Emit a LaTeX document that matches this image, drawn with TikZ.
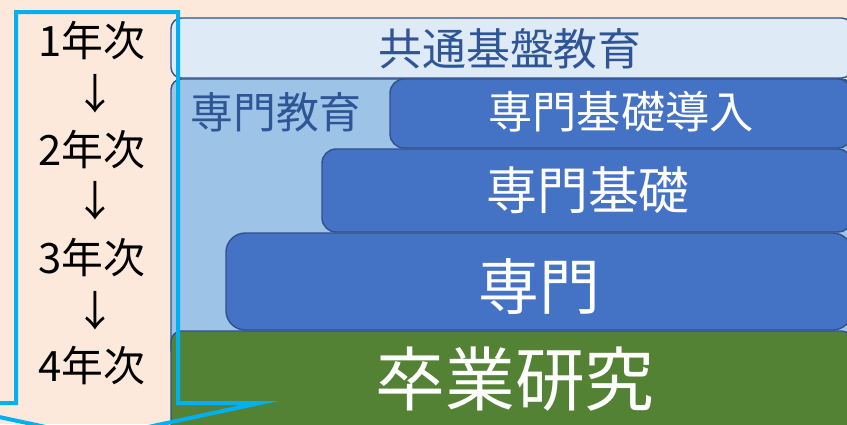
\documentclass[tikz,border=0pt]{standalone}
\usepackage{fontspec}
\setmainfont{Noto Sans CJK JP}
\definecolor{peach}{HTML}{FCE9DC}
\definecolor{paleblue}{HTML}{DEEBF7}
\definecolor{lightblue}{HTML}{9DC3E6}
\definecolor{midblue}{HTML}{4472C4}
\definecolor{grassgreen}{HTML}{548235}
\definecolor{edgeblue}{HTML}{2F528F}
\definecolor{darktext}{HTML}{2F5597}
\definecolor{flowcyan}{HTML}{00B0F0}
\tikzset{
  layer/.style={draw=edgeblue, line width=0.8pt, rounded corners=#1},
  yeartext/.style={inner sep=0pt, font=\fontsize{23.8}{26}\selectfont},
  darklabel/.style={inner sep=0pt, text=darktext, font=\fontsize{#1}{#1}\selectfont},
  whitelabel/.style={inner sep=0pt, text=white, font=\fontsize{#1}{#1}\selectfont}
}

\begin{document}
\begin{tikzpicture}[x=0.02cm, y=-0.02cm]
			%%%%% START %%%%%
			
			\useasboundingbox (0, 0) rectangle (847, 424);
			\clip (0, 0) rectangle (847, 424);
			\fill[peach] (0, 0) rectangle (847, 424);
			
			% layers
			\draw[layer=6pt, fill=paleblue] (171, 18) rectangle (852, 78);
			\draw[layer=6pt, fill=lightblue] (171, 79) rectangle (852, 360);
			\draw[layer=8pt, fill=midblue] (390, 79) rectangle (852, 148);
			\draw[layer=8pt, fill=midblue] (322, 149) rectangle (852, 232);
			\draw[layer=11pt, fill=midblue] (226, 233) rectangle (852, 330);
			\draw[layer=6pt, fill=grassgreen] (171, 331) rectangle (852, 450);
			
			% arrow down
			\draw[flowcyan, line width=0.08cm, miter limit=20] (16, 12) -- (178, 12) -- (178, 403) -- (260, 403) -- (97, 438) -- (-66, 403) -- (16, 403) -- cycle;
			
			% years
			\node[yeartext] (y1) at (92, 41) {1年次};
			\node[yeartext] (a1) at (95, 94) {↓};
			\node[yeartext] (y2) at (92, 150) {2年次};
			\node[yeartext] (a2) at (95, 201) {↓};
			\node[yeartext] (y3) at (92, 258) {3年次};
			\node[yeartext] (a3) at (95, 311) {↓};
			\node[yeartext] (y4) at (92, 366) {4年次};
			
			% labels
			\node[darklabel=25] (common) at (510, 49) {共通基盤教育};
			\node[darklabel=24.4] (senmon) at (276, 112) {専門教育};
			\node[whitelabel=25.2] (intro) at (621, 112) {専門基礎導入};
			\node[whitelabel=29] (basic) at (588, 190) {専門基礎};
			\node[whitelabel=34.6] (major) at (539, 287) {専門};
			\node[whitelabel=39.7] (thesis) at (515, 379) {卒業研究};
			
			%%%%% END %%%%%
		\end{tikzpicture}
\end{document}
